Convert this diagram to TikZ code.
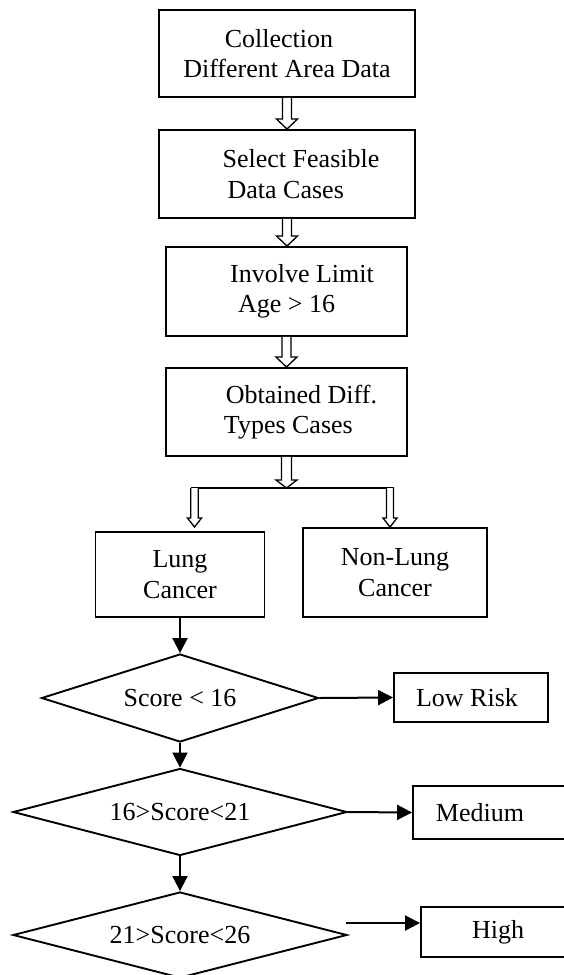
\documentclass[tikz,border=0pt]{standalone}
\usepackage{fontspec}
\setmainfont{Liberation Serif}
\usetikzlibrary{shapes.geometric,arrows.meta,calc}
\newcommand{\hollowarrow}[5]{%
  \draw[harr] let \p1=(#1), \p2=(#2) in
    (\x1-#3,\y1) -- (\x1-#3,\y2+#5) -- (\x1-#4,\y2+#5) -- (\x1,\y2)
    -- (\x1+#4,\y2+#5) -- (\x1+#3,\y2+#5) -- (\x1+#3,\y1);}
\tikzset{
  txt/.style={font=\fontsize{26}{30.5}\selectfont},
  box/.style={draw, rectangle, line width=1.9pt, inner sep=0pt, txt},
  dia/.style={draw, diamond, line width=1.9pt, inner sep=0pt, txt},
  arr/.style={line width=2pt, -{Triangle[length=15pt,width=15pt]}},
  harr/.style={line width=1.3pt, fill=white, line join=miter},
  hline/.style={line width=1.3pt},
}
\begin{document}
\begin{tikzpicture}[x=1pt,y=-1pt]
\useasboundingbox (0,0) rectangle (563,975);
% process boxes
\node[box, minimum width=256pt, minimum height=87pt, align=center] (b1) at (287,53.5)
  {Collection\kern16pt\\Different Area Data};
\node[box, minimum width=256pt, minimum height=88pt, align=left] (b2) at (287,174)
  {\hspace*{28pt}Select Feasible\\\hspace*{33pt}Data Cases};
\node[box, minimum width=241pt, minimum height=89pt, align=left] (b3) at (286.5,291.5)
  {\hspace*{31pt}Involve Limit\\\hspace*{39pt}Age > 16};
\node[box, minimum width=241pt, minimum height=88pt, align=left] (b4) at (286.5,412)
  {\hspace*{30pt}Obtained Diff.\\\hspace*{28pt}Types Cases};
\node[box, minimum width=169pt, minimum height=85pt, align=center] (lung) at (180,574.5)
  {Lung\\Cancer};
\node[box, minimum width=184pt, minimum height=89pt, align=center] (nonlung) at (395,572.5)
  {Non-Lung\\Cancer};
% decisions
\node[dia, minimum width=277pt, minimum height=88pt, shape aspect=3.15] (d1) at (180,698) {Score < 16};
\node[dia, minimum width=334pt, minimum height=87pt, shape aspect=3.84] (d2) at (180,812) {16>Score<21};
\node[dia, minimum width=334pt, minimum height=86pt, shape aspect=3.88] (d3) at (180,935) {21>Score<26};
% outcomes
\node[box, minimum width=154pt, minimum height=49pt] (low) at (471,697.5) {Low Risk\kern8pt};
\node[box, minimum width=157pt, minimum height=53pt] (med) at (491.5,812.5) {Medium\kern23pt};
\node[box, minimum width=149pt, minimum height=50pt] (high) at (495.5,932) {\kern5pt High};
% hollow arrows
\hollowarrow{b1.south}{b2.north}{4.5pt}{10.5pt}{10pt}
\hollowarrow{b2.south}{b3.north}{4.5pt}{10.5pt}{10pt}
\hollowarrow{b3.south}{b4.north}{4.5pt}{10.5pt}{10pt}
\coordinate (split) at (286.5,488);
\coordinate (bl) at (194.5,488);
\coordinate (br) at (390,488);
\draw[hline] ([xshift=-3.75pt]bl) -- ([xshift=3.5pt]br);
\hollowarrow{b4.south}{split}{5pt}{10.5pt}{8pt}
\hollowarrow{bl}{bl |- nonlung.north}{3.75pt}{7pt}{9pt}
\hollowarrow{br}{br |- nonlung.north}{3.5pt}{7pt}{9pt}
% solid arrows
\draw[arr] (lung.south) -- (d1.north);
\draw[arr] (d1.south) -- (d2.north);
\draw[arr] (d2.south) -- (d3.north);
\draw[arr] (d1.east) -- (low.west);
\draw[arr] (d2.east) -- (med.west);
\coordinate (h0) at (346,923);
\draw[arr] (h0) -- (h0 -| high.west);
\end{tikzpicture}
\end{document}
